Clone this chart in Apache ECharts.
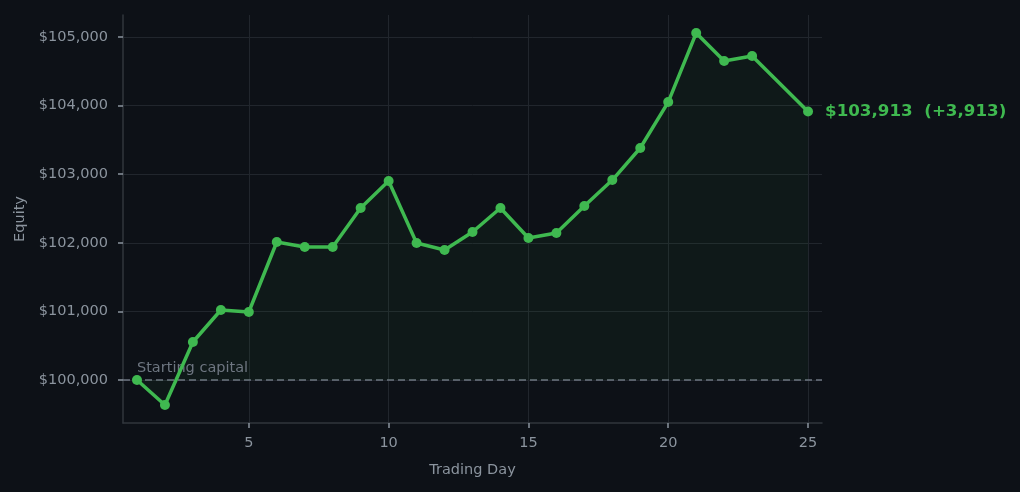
<!DOCTYPE html>
<html><head><meta charset="utf-8">
<script src="https://cdn.jsdelivr.net/npm/echarts@6/dist/echarts.min.js"></script>
<style>html,body{margin:0;padding:0;background:#0d1117;}#c{width:1020px;height:492px;}</style>
</head><body><div id="c"></div>
<script>
const days   = [1, 2, 3, 4, 5, 6, 7, 8, 9, 10, 11, 12, 13, 14, 15, 16, 17, 18, 19, 20, 21, 22, 23, 25];
const equity = [100000, 99636, 100554, 101020, 100991, 102012, 101939, 101939, 102507, 102901,
                101997, 101895, 102157, 102507, 102070, 102143, 102536, 102915, 103382, 104052,
                105058, 104650, 104723, 103913];
const startCapital = 100000;
const xTicks = [5, 10, 15, 20, 25];
const yTicks = [100000, 101000, 102000, 103000, 104000, 105000];

const FONT = 'DejaVu Sans';
const green = '#3fb950';
const last = equity.length - 1;
const data = days.map((d, i) => {
  const p = { value: [d, equity[i]] };
  if (i === last) {
    const diff = equity[i] - startCapital;
    p.label = {
      show: true, position: 'right', distance: 12,
      formatter: '$' + equity[i].toLocaleString('en-US') + '  (' + (diff >= 0 ? '+' : '-') + Math.abs(diff).toLocaleString('en-US') + ')',
      color: green, fontFamily: FONT, fontWeight: 'bold', fontSize: 16.7
    };
  }
  return p;
});

const chart = echarts.init(document.getElementById('c'));
chart.setOption({
  backgroundColor: '#0d1117',
  animation: false,
  grid: { left: 123, right: 198, top: 15, bottom: 69, containLabel: false },
  xAxis: {
    type: 'value', min: 0.5, max: 25.5,
    name: 'Trading Day', nameLocation: 'middle', nameGap: 40,
    nameTextStyle: { color: '#8b949e', fontFamily: FONT, fontSize: 14.5 },
    axisLine: { show: true, onZero: false, lineStyle: { color: '#30363d', width: 1.5 } },
    axisTick: { show: true, customValues: xTicks, length: 5, lineStyle: { color: '#8b949e', width: 1.5 } },
    axisLabel: { customValues: xTicks, color: '#8b949e', fontFamily: FONT, fontSize: 14.5, margin: 13 },
    splitLine: { show: true, lineStyle: { color: '#21262d', width: 1 } }
  },
  yAxis: {
    type: 'value', min: 99373, max: 105321,
    name: 'Equity', nameLocation: 'middle', nameGap: 94,
    nameTextStyle: { color: '#8b949e', fontFamily: FONT, fontSize: 14.5 },
    axisLine: { show: true, onZero: false, lineStyle: { color: '#30363d', width: 1.5 } },
    axisTick: { show: true, customValues: yTicks, length: 5, lineStyle: { color: '#8b949e', width: 1.5 } },
    axisLabel: { customValues: yTicks, color: '#8b949e', fontFamily: FONT, fontSize: 14.5, margin: 15,
      formatter: v => '$' + Math.round(v).toLocaleString('en-US') },
    splitLine: { show: true, lineStyle: { color: '#21262d', width: 1 } }
  },
  series: [{
    type: 'line',
    data: data,
    symbol: 'circle', symbolSize: 10,
    itemStyle: { color: green },
    lineStyle: { color: green, width: 3.5 },
    areaStyle: { origin: startCapital, color: 'rgba(63,185,80,0.07)' },
    z: 5,
    markLine: {
      silent: true, symbol: 'none',
      lineStyle: { color: '#6e7681', type: [7, 4], width: 1.5 },
      label: { show: false },
      data: [{ yAxis: startCapital }]
    },
    markPoint: {
      silent: true, symbol: 'circle', symbolSize: 0,
      data: [{ coord: [days[0], startCapital] }],
      label: { show: true, formatter: 'Starting capital', position: [0, -4], align: 'left', verticalAlign: 'bottom',
        color: '#6e7681', fontFamily: FONT, fontSize: 14.5 }
    }
  }]
});
</script></body></html>
